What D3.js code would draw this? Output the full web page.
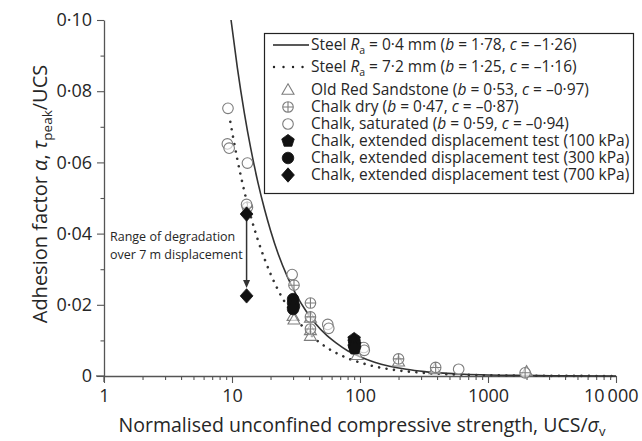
<!DOCTYPE html>
<html>
<head>
<meta charset="utf-8">
<script src="https://cdn.jsdelivr.net/npm/d3@7"></script>
<style>
  body { margin: 0; background: #fff; }
  svg { display: block; font-family: "Open Sans", "Noto Sans", sans-serif; }
</style>
</head>
<body>
<svg id="chart" width="642" height="441"></svg>
<script>
// ---- axis ticks ----
const xMajorTicks = [1, 10, 100, 1000, 10000];
const xMajorLabels = ["1", "10", "100", "1000", "10\u2009000"];
const xMinorTicks = [2,3,4,5,6,7,8,9,20,30,40,50,60,70,80,90,200,300,400,500,600,700,800,900,2000,3000,4000,5000,6000,7000,8000,9000];
const yMajorTicks = [0, 0.02, 0.04, 0.06, 0.08, 0.10];
const yMajorLabels = ["0", "0·02", "0·04", "0·06", "0·08", "0·10"];
const yMinorTicks = [0.01, 0.03, 0.05, 0.07, 0.09];

// ---- fitted curves (UCS/σv, α) ----
const steelSmoothX = [9.83, 11, 12.5, 14, 16, 18, 20, 23, 27, 32, 38, 45, 55, 65, 80, 100, 130, 170, 230, 320, 450, 650, 1000, 1500, 2500, 4000, 10000];
const steelSmoothA = [0.100, 0.0867, 0.0738, 0.0640, 0.0541, 0.0467, 0.0409, 0.0342, 0.0280, 0.0226, 0.0182, 0.0147, 0.0114, 0.0093, 0.0071, 0.0054, 0.00386, 0.00276, 0.00188, 0.00124, 0.00081, 0.00051, 0.00030, 0.00018, 0.000093, 0.000052, 0.000016];
const steelRoughX = [9.7, 11, 12.5, 14, 16, 18, 20, 23, 27, 32, 38, 45, 55, 65, 80, 100, 130, 170, 230, 320, 450, 650, 1000, 1500, 2500, 4000, 10000];
const steelRoughA = [0.0714, 0.0609, 0.0518, 0.0449, 0.0380, 0.0328, 0.0287, 0.0240, 0.0197, 0.0159, 0.0128, 0.0103, 0.0080, 0.0065, 0.0050, 0.0038, 0.0027, 0.0019, 0.0013, 0.00087, 0.00057, 0.00036, 0.00021, 0.00013, 0.000065, 0.000037, 0.000011];

// ---- test results (UCS/σv, α) ----
const sandstoneX = [30, 30.5, 41, 41, 41, 95, 200, 385, 2000];
const sandstoneA = [0.0168, 0.0158, 0.0163, 0.0128, 0.0112, 0.0058, 0.0040, 0.0018, 0.0012];
const chalkDryX = [13.2, 30.5, 41, 41, 41, 200, 390, 1950];
const chalkDryA = [0.0474, 0.0255, 0.0205, 0.0166, 0.0132, 0.0048, 0.0024, 0.0009];
const chalkSatX = [9.3, 9.2, 9.5, 13.2, 13.0, 29.5, 56, 57, 107, 108, 590];
const chalkSatA = [0.0752, 0.0652, 0.0640, 0.0598, 0.0482, 0.0285, 0.0145, 0.0134, 0.0080, 0.0072, 0.0019];
const ext100X = [90, 90, 91, 90, 91];
const ext100A = [0.0104, 0.0096, 0.0089, 0.0082, 0.0077];
const ext300X = [30, 30, 30.5, 30];
const ext300A = [0.0216, 0.0205, 0.0196, 0.0188];
const ext700X = [13, 13];
const ext700A = [0.0455, 0.0225];

// ---- legend ----
const legendRows = [
  [["Steel "], ["R", "i"], ["a", "sub"], [" = 0·4 mm ("], ["b", "i"], [" = 1·78, "], ["c", "i"], [" = –1·26)"]],
  [["Steel "], ["R", "i"], ["a", "sub"], [" = 7·2 mm ("], ["b", "i"], [" = 1·25, "], ["c", "i"], [" = –1·16)"]],
  [["Old Red Sandstone ("], ["b", "i"], [" = 0·53, "], ["c", "i"], [" = –0·97)"]],
  [["Chalk dry ("], ["b", "i"], [" = 0·47, "], ["c", "i"], [" = –0·87)"]],
  [["Chalk, saturated ("], ["b", "i"], [" = 0·59, "], ["c", "i"], [" = –0·94)"]],
  [["Chalk, extended displacement test (100 kPa)"]],
  [["Chalk, extended displacement test (300 kPa)"]],
  [["Chalk, extended displacement test (700 kPa)"]]
];
const legendKeys = ["solid", "dotted", "triangle", "plus", "circle", "pentagon", "disc", "diamond"];

const ink = "#262626";
const grey = "#7d7d7d";

const svg = d3.select("#chart");
const x = d3.scaleLog().domain([1, 10000]).range([104, 616]);
const y = d3.scaleLinear().domain([0, 0.1]).range([376, 20]);

// ---- marker shapes ----
function pentagonPath(r) {
  const pts = d3.range(5).map(k => {
    const a = -Math.PI / 2 + k * 2 * Math.PI / 5;
    return [r * Math.cos(a), r * Math.sin(a)];
  });
  return "M" + pts.map(p => p.join(",")).join("L") + "Z";
}
const shapes = {
  triangle: "M0,-6.2L6,4.2L-6,4.2Z",
  circle: d3.symbol(d3.symbolCircle, Math.PI * 5.3 * 5.3)(),
  plus: d3.symbol(d3.symbolCircle, Math.PI * 5.3 * 5.3)() + "M-5.3,0H5.3M0,-5.3V5.3",
  pentagon: pentagonPath(6.6),
  disc: d3.symbol(d3.symbolCircle, Math.PI * 5.8 * 5.8)(),
  diamond: "M0,-7.2L6.4,0L0,7.2L-6.4,0Z"
};
function drawMarker(g, key, cx, cy) {
  const filled = key === "pentagon" || key === "disc" || key === "diamond";
  g.append("path")
    .attr("d", shapes[key])
    .attr("transform", `translate(${cx},${cy})`)
    .attr("fill", filled ? "#111" : "#fff")
    .attr("fill-opacity", filled ? 1 : 0.6)
    .attr("stroke", filled ? "#111" : grey)
    .attr("stroke-width", filled ? 0.8 : 1.1);
}

// ---- axes ----
const xAxis = svg.append("g").attr("transform", `translate(0,${y(0)})`);
xAxis.call(d3.axisBottom(x).tickValues(xMinorTicks).tickFormat("").tickSize(4).tickSizeOuter(0));
xAxis.selectAll(".tick line").attr("stroke", "#555").attr("stroke-width", 1.1);
xAxis.select(".domain").attr("stroke", "#555").attr("stroke-width", 1.3);
xAxis.append("line").attr("x1", x(1) - 8).attr("x2", x(1)).attr("stroke", "#555").attr("stroke-width", 1.3);
const xAxisMajor = svg.append("g").attr("transform", `translate(0,${y(0)})`);
xAxisMajor.call(d3.axisBottom(x).tickValues(xMajorTicks)
  .tickFormat((d, i) => xMajorLabels[i]).tickSize(7).tickSizeOuter(0).tickPadding(6));
xAxisMajor.select(".domain").remove();
xAxisMajor.selectAll(".tick line").attr("stroke", "#555").attr("stroke-width", 1.1);
xAxisMajor.selectAll("text").attr("font-size", 18).attr("fill", ink).attr("font-family", "Open Sans");
// the last label is pulled inside the right edge
xAxisMajor.selectAll("text").filter(d => d === 10000)
  .attr("text-anchor", "end").attr("dx", 22);

const yAxis = svg.append("g").attr("transform", `translate(${x(1)},0)`);
yAxis.call(d3.axisLeft(y).tickValues(yMinorTicks).tickFormat("").tickSize(3.5).tickSizeOuter(0));
yAxis.selectAll(".tick line").attr("stroke", "#555").attr("stroke-width", 1.1);
yAxis.select(".domain").attr("stroke", "#555").attr("stroke-width", 1.3);
yAxis.append("line").attr("y1", y(0)).attr("y2", y(0) + 6).attr("stroke", "#555").attr("stroke-width", 1.3);
const yAxisMajor = svg.append("g").attr("transform", `translate(${x(1)},0)`);
yAxisMajor.call(d3.axisLeft(y).tickValues(yMajorTicks)
  .tickFormat((d, i) => yMajorLabels[i]).tickSize(7).tickSizeOuter(0).tickPadding(5));
yAxisMajor.select(".domain").remove();
yAxisMajor.selectAll(".tick line").attr("stroke", "#555").attr("stroke-width", 1.1);
yAxisMajor.selectAll("text").attr("font-size", 18).attr("fill", ink).attr("font-family", "Open Sans");

// axis titles
const xTitle = svg.append("text")
  .attr("x", 362).attr("y", 432).attr("text-anchor", "middle")
  .attr("font-size", 19.5).attr("fill", ink);
xTitle.append("tspan").text("Normalised unconfined compressive strength, UCS/");
xTitle.append("tspan").attr("font-style", "italic").text("σ");
xTitle.append("tspan").attr("font-size", 13).attr("dy", 4).text("v");

const yTitle = svg.append("text")
  .attr("transform", "translate(47,194) rotate(-90)")
  .attr("text-anchor", "middle").attr("font-size", 20).attr("fill", ink);
yTitle.append("tspan").text("Adhesion factor ");
yTitle.append("tspan").attr("font-style", "italic").text("α");
yTitle.append("tspan").text(", ");
yTitle.append("tspan").attr("font-style", "italic").text("τ");
yTitle.append("tspan").attr("font-size", 13.5).attr("dy", 5).text("peak");
yTitle.append("tspan").attr("dy", -5).text("/UCS");

// ---- curves ----
const line = d3.line().x(d => x(d[0])).y(d => y(d[1])).curve(d3.curveMonotoneX);
svg.append("path")
  .datum(steelSmoothX.map((v, i) => [v, steelSmoothA[i]]))
  .attr("d", line).attr("fill", "none").attr("stroke", "#333").attr("stroke-width", 1.6);
svg.append("path")
  .datum(steelRoughX.map((v, i) => [v, steelRoughA[i]]))
  .attr("d", line).attr("fill", "none").attr("stroke", "#333").attr("stroke-width", 2.6)
  .attr("stroke-linecap", "round").attr("stroke-dasharray", "0.01 7.5");

// ---- points ----
const pts = svg.append("g");
sandstoneX.forEach((v, i) => drawMarker(pts, "triangle", x(v), y(sandstoneA[i])));
chalkDryX.forEach((v, i) => drawMarker(pts, "plus", x(v), y(chalkDryA[i])));
chalkSatX.forEach((v, i) => drawMarker(pts, "circle", x(v), y(chalkSatA[i])));
ext100X.forEach((v, i) => drawMarker(pts, "pentagon", x(v), y(ext100A[i])));
ext300X.forEach((v, i) => drawMarker(pts, "disc", x(v), y(ext300A[i])));

// degradation arrow between the two 700 kPa results
const ax = x(ext700X[0]);
svg.append("line")
  .attr("x1", ax).attr("x2", ax)
  .attr("y1", y(ext700A[0])).attr("y2", y(ext700A[1]) - 12)
  .attr("stroke", "#333").attr("stroke-width", 1.5);
svg.append("path")
  .attr("d", `M${ax - 3.5},${y(ext700A[1]) - 16}L${ax + 3.5},${y(ext700A[1]) - 16}L${ax},${y(ext700A[1]) - 8}Z`)
  .attr("fill", "#333");
const diamonds = svg.append("g");
ext700X.forEach((v, i) => drawMarker(diamonds, "diamond", x(v), y(ext700A[i])));

const note = svg.append("text").attr("font-size", 12.5).attr("fill", ink);
note.append("tspan").attr("x", 110).attr("y", 241).text("Range of degradation");
note.append("tspan").attr("x", 110).attr("y", 259).text("over 7 m displacement");

// ---- legend ----
const lg = svg.append("g");
lg.append("rect").attr("x", 264.5).attr("y", 33.5).attr("width", 369).attr("height", 160)
  .attr("fill", "#fff").attr("stroke", "#222").attr("stroke-width", 1.2);
const rowY = [45, 67, 90, 107, 124, 141, 158, 175];
legendRows.forEach((segs, r) => {
  const yy = rowY[r];
  const key = legendKeys[r];
  if (key === "solid") {
    lg.append("line").attr("x1", 273).attr("x2", 309).attr("y1", yy).attr("y2", yy)
      .attr("stroke", "#222").attr("stroke-width", 1.6);
  } else if (key === "dotted") {
    lg.append("line").attr("x1", 274).attr("x2", 306).attr("y1", yy).attr("y2", yy)
      .attr("stroke", "#222").attr("stroke-width", 2.4).attr("stroke-linecap", "round")
      .attr("stroke-dasharray", "0.01 9.5");
  } else {
    drawMarker(lg, key, 288, yy);
  }
  const t = lg.append("text").attr("x", 311).attr("y", yy + 5)
    .attr("font-size", 15.5).attr("fill", ink);
  let shifted = false;
  segs.forEach(([s, st]) => {
    const sp = t.append("tspan").text(s);
    if (st === "i") sp.attr("font-style", "italic");
    if (st === "sub") { sp.attr("font-size", 10.5).attr("dy", 4); shifted = true; }
    else if (shifted) { sp.attr("dy", -4); shifted = false; }
  });
});
</script>
</body>
</html>
